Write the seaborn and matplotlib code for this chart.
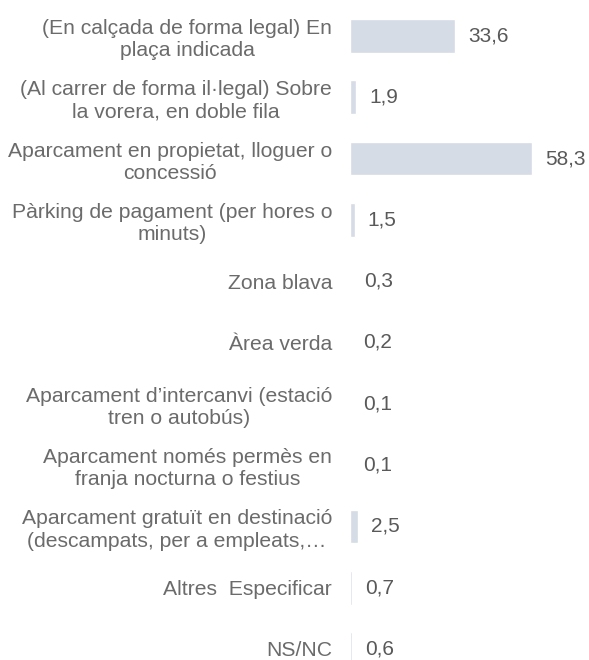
import seaborn as sns
import pandas as pd
import matplotlib.pyplot as plt

sns.set_theme(style='white')
plt.rcParams['font.family'] = ['Liberation Sans', 'DejaVu Sans']

categories = [
    '(En calçada de forma legal) En\nplaça indicada',
    "(Al carrer de forma il·legal) Sobre\nla vorera, en doble fila",
    'Aparcament en propietat, lloguer o\nconcessió',
    'Pàrking de pagament (per hores o\nminuts)',
    'Zona blava',
    'Àrea verda',
    'Aparcament d’intercanvi (estació\ntren o autobús)',
    'Aparcament només permès en\nfranja nocturna o festius',
    'Aparcament gratuït en destinació\n(descampats, per a empleats,…',
    'Altres  Especificar',
    'NS/NC',
]
values = [33.6, 1.9, 58.3, 1.5, 0.3, 0.2, 0.1, 0.1, 2.5, 0.7, 0.6]

df = pd.DataFrame({'cat': categories, 'val': values})

fig = plt.figure(figsize=(5.89, 6.6), dpi=100)
ax = fig.add_axes([0.594, 0.0, 0.406, 1.0])
sns.barplot(data=df, x='val', y='cat', color='#d5dce6', saturation=1,
            width=0.55, ax=ax, orient='h')
ax.set_xlim(0, 76.6)
ax.set_ylim(10.18, -0.587)
ax.set_xlabel('')
ax.set_ylabel('')
ax.set_xticks([])
ax.tick_params(axis='y', length=0, pad=12.8, labelsize=15.2, labelcolor='#6b6b6b')
for lbl in ax.get_yticklabels():
    lbl.set_horizontalalignment('right')
    lbl.set_multialignment('center')
    lbl.set_linespacing(1.22)
for s in ax.spines.values():
    s.set_visible(False)

for i, v in enumerate(values):
    ax.text(v + 4.2, i, f'{v:.1f}'.replace('.', ','), va='center', ha='left',
            fontsize=15, color='#595959')

fig.savefig('out.png', dpi=100)
